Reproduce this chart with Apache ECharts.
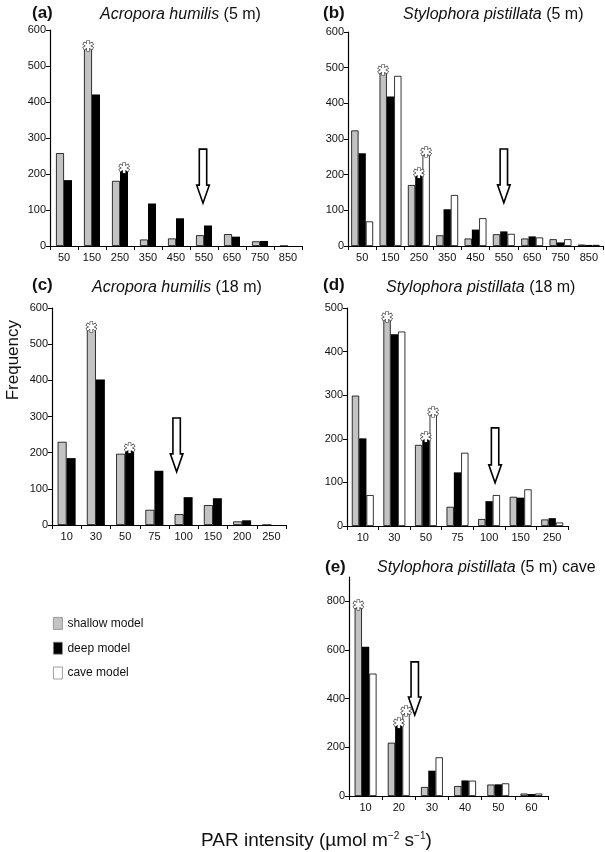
<!DOCTYPE html>
<html><head><meta charset="utf-8">
<script src="https://cdn.jsdelivr.net/npm/echarts@6/dist/echarts.min.js"></script>
<style>html,body{margin:0;padding:0;background:#fff}#c{width:605px;height:852px}</style>
</head><body><div id="c"></div>
<script>
// ---- data ----
const catsA = ['50','150','250','350','450','550','650','750','850'];
const aShallow = [258,549,181,18,21,30,33,13,0];
const aDeep    = [183,421,211,118,77,57,26,14,0];

const catsB = ['50','150','250','350','450','550','650','750','850'];
const bShallow = [324,487,171,30,21,33,21,19,4];
const bDeep    = [260,419,198,103,46,41,27,10,3];
const bCave    = [69,477,256,143,78,34,24,19,3];

const catsC = ['10','30','50','75','100','150','200','250'];
const cShallow = [230,542,197,42,30,55,10,0];
const cDeep    = [185,402,205,150,77,74,13,0];

const catsD = ['10','30','50','75','100','150','250'];
const dShallow = [299,475,186,44,16,67,15];
const dDeep    = [201,440,199,123,57,65,18];
const dCave    = [71,446,256,168,71,84,8];

const catsE = ['10','20','30','40','50','60'];
const eShallow = [774,219,37,41,47,10];
const eDeep    = [613,289,104,64,48,8];
const eCave    = [503,339,159,63,52,10];

// significance stars (category labels)
const starA = {shallow:['150'], deep:['250'], cave:[]};
const starB = {shallow:['150'], deep:['250'], cave:['250']};
const starC = {shallow:['30'], deep:['50'], cave:[]};
const starD = {shallow:['30'], deep:['50'], cave:['50']};
const starE = {shallow:['10'], deep:['20'], cave:['20']};

// arrows: category, value at arrow top and at arrow tip
const arrowA = {cat:'550', top:269, tip:119};
const arrowB = {cat:'550', top:272, tip:121};
const arrowC = {cat:'100', top:296, tip:147};
const arrowD = {cat:'100', top:225, tip:99};
const arrowE = {cat:'20',  top:551, tip:333};

const yTicksA = [0,100,200,300,400,500,600];
const yTicksD = [0,100,200,300,400,500];
const yTicksE = [0,200,400,600,800];

// ---- chart ----
const NARROW = '"Liberation Sans Narrow","Arial Narrow",sans-serif';
const SANS = '"Liberation Sans",Arial,sans-serif';
const names = ['shallow model','deep model','cave model'];
const colors = ['#c3c3c3','#000000','#ffffff'];

const panels = [
  {cats:catsA, s:[aShallow,aDeep], stars:starA, arrow:arrowA, max:600, ticks:yTicksA, grid:{left:50, top:30, width:252, height:216}, bw:8, arrowOff:-1},
  {cats:catsB, s:[bShallow,bDeep,bCave], stars:starB, arrow:arrowB, max:600, ticks:yTicksA, grid:{left:348, top:32, width:255, height:214}, bw:7.3, arrowOff:0},
  {cats:catsC, s:[cShallow,cDeep], stars:starC, arrow:arrowC, max:600, ticks:yTicksA, grid:{left:52, top:308, width:234, height:217}, bw:9, arrowOff:-7},
  {cats:catsD, s:[dShallow,dDeep,dCave], stars:starD, arrow:arrowD, max:500, ticks:yTicksD, grid:{left:347, top:308, width:221, height:218}, bw:7.3, arrowOff:6},
  {cats:catsE, s:[eShallow,eDeep,eCave], stars:starE, arrow:arrowE, max:900, ticks:yTicksE, grid:{left:349, top:577, width:199, height:219}, bw:7.3, arrowOff:16}
];

const grid=[], xAxis=[], yAxis=[], series=[];
panels.forEach((p,i)=>{
  grid.push(p.grid);
  xAxis.push({type:'category', gridIndex:i, data:p.cats,
    axisLine:{lineStyle:{color:'#000', width:1.2}},
    axisTick:{show:true, alignWithLabel:false, length:4, lineStyle:{color:'#000'}},
    axisLabel:{color:'#111', fontFamily:NARROW, fontSize:11, margin:6, interval:0}});
  yAxis.push({type:'value', gridIndex:i, min:0, max:p.max,
    splitLine:{show:false},
    axisLine:{show:true, lineStyle:{color:'#000', width:1.2}},
    axisTick:{show:true, length:4, customValues:p.ticks, lineStyle:{color:'#000'}},
    axisLabel:{color:'#111', fontFamily:NARROW, fontSize:11, margin:4, customValues:p.ticks}});
  const keys=['shallow','deep','cave'];
  p.s.forEach((vals,k)=>{
    const starCats = p.stars[keys[k]];
    const data = vals.map((v,j)=>{
      if (starCats.indexOf(p.cats[j])>=0) {
        return {value:v, label:{show:true, position:'top', distance:-6, formatter:'\u2731',
          fontSize:14, color:'#fff', textBorderColor:'#333', textBorderWidth:1.2, fontFamily:'"DejaVu Sans",sans-serif'}};
      }
      return v;
    });
    series.push({type:'bar', name:names[k], xAxisIndex:i, yAxisIndex:i, data:data,
      barWidth:p.bw, barGap:'0%',
      itemStyle:{color:colors[k], borderColor:'#000', borderWidth:k===1?0:0.8},
      label:{show:false}, z:2, animation:false});
  });
});

const titleSty = {fontFamily:SANS, fontSize:16, color:'#111', fontWeight:'normal',
  rich:{i:{fontFamily:SANS, fontSize:16, fontStyle:'italic', color:'#111', fontWeight:'normal'},
        n:{fontFamily:SANS, fontSize:16, color:'#111', fontWeight:'normal'}}};
const lab = (t,x,y)=>({text:t, left:x, top:y, padding:0, textStyle:{fontFamily:SANS, fontSize:17, fontWeight:'bold', color:'#111'}});
const ttl = (sp,rest,x,y)=>({text:'{i|'+sp+'}{n| '+rest+'}', left:x, top:y, padding:0, textStyle:titleSty});

const option = {
  backgroundColor:'#fff',
  animation:false,
  title:[
    lab('(a)',32,5), ttl('Acropora humilis','(5 m)',100,7),
    lab('(b)',323,5), ttl('Stylophora pistillata','(5 m)',403,7),
    lab('(c)',32,277), ttl('Acropora humilis','(18 m)',92,280),
    lab('(d)',323,277), ttl('Stylophora pistillata','(18 m)',386,280),
    lab('(e)',325,559), ttl('Stylophora pistillata','(5 m) cave',377,560),
    {text:'{n|PAR intensity (\u00b5mol m}{s|\u22122}{n| s}{s|\u22121}{n|)}', left:201, top:831, padding:0,
     textStyle:{fontWeight:'normal', rich:{n:{fontFamily:SANS, fontSize:19, color:'#111', lineHeight:20, fontWeight:'normal'},
                      s:{fontFamily:SANS, fontSize:10, color:'#111', lineHeight:20, fontWeight:'normal', verticalAlign:'top', padding:[0,0,8,0]}}}}
  ],
  legend:{data:names, orient:'vertical', left:53, top:617, padding:0, itemWidth:9, itemHeight:12, itemGap:12,
    textStyle:{fontFamily:NARROW, fontSize:12, color:'#111'}, icon:'rect',
    itemStyle:{borderColor:'#888', borderWidth:0.8}},
  grid:grid, xAxis:xAxis, yAxis:yAxis, series:series
};
const chart = echarts.init(document.getElementById('c'), null, {renderer:'canvas'});
chart.setOption(option);

// arrows + axis title drawn after layout, positioned through the chart's own scales
const graphics = [{type:'text', left:5, top:320, rotation:Math.PI/2,
  style:{text:'Frequency', font:'17px "Liberation Sans", Arial, sans-serif', fill:'#111'}}];
panels.forEach((p,i)=>{
  const a = p.arrow;
  const t = chart.convertToPixel({gridIndex:i}, [a.cat, a.top]);
  const b = chart.convertToPixel({gridIndex:i}, [a.cat, a.tip]);
  const cx = t[0] + p.arrowOff, hs = 3.7, hh = 6.3, headLen = 18;
  const pts = [[cx-hs,t[1]],[cx+hs,t[1]],[cx+hs,b[1]-headLen],[cx+hh,b[1]-headLen],[cx,b[1]],[cx-hh,b[1]-headLen],[cx-hs,b[1]-headLen]];
  graphics.push({type:'polygon', shape:{points:pts}, style:{fill:'#fff', stroke:'#000', lineWidth:1.6}, z:10});
});
chart.setOption({graphic:graphics});
</script></body></html>
